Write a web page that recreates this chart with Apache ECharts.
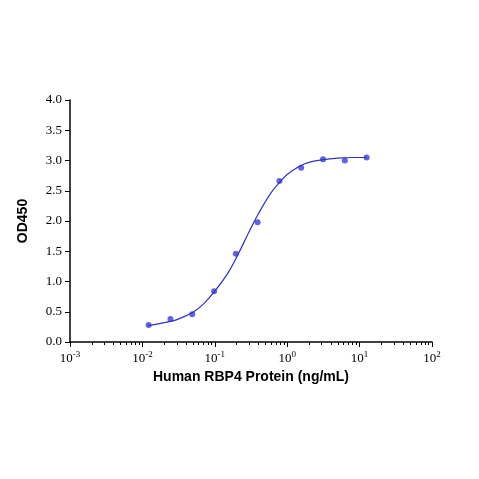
<!DOCTYPE html><html><head><meta charset="utf-8"><script src="https://cdn.jsdelivr.net/npm/echarts@6/dist/echarts.min.js"></script></head><body style="margin:0"><div id="c" style="width:479px;height:479px"></div><script>
var pointsX=[0.0122,0.0244,0.0488,0.0977,0.195,0.39,0.78,1.56,3.125,6.25,12.5];
var pointsY=[0.28,0.38,0.46,0.84,1.46,1.98,2.66,2.88,3.02,3.0,3.05];
var curveX=[0.012,0.02,0.03,0.05,0.07,0.1,0.15,0.2,0.3,0.4,0.6,0.8,1,1.5,2,3,5,8,12.5];
var curveY=[0.27,0.32,0.37,0.49,0.63,0.84,1.13,1.40,1.83,2.12,2.47,2.65,2.77,2.91,2.97,3.01,3.04,3.05,3.05];
var ch=echarts.init(document.getElementById('c'));
ch.setOption({animation:false,
grid:{left:70,right:47,top:100,bottom:137},
xAxis:{type:'log',min:0.001,max:100,logBase:10,
 name:'Human RBP4 Protein (ng/mL)',nameLocation:'middle',nameGap:28,
 nameTextStyle:{fontFamily:'Liberation Sans',fontWeight:'bold',fontSize:14,color:'#000'},
 axisLine:{lineStyle:{color:'#000',width:1.5}},axisTick:{length:5,lineStyle:{color:'#000'}},
 minorTick:{show:true,splitNumber:9,length:3,lineStyle:{color:'#000'}},
 splitLine:{show:false},
 axisLabel:{color:'#000',fontFamily:'Liberation Serif',fontSize:13,
  rich:{b:{fontFamily:'Liberation Serif',fontSize:13,color:'#000',verticalAlign:'bottom'},s:{fontFamily:'Liberation Serif',fontSize:9,color:'#000',verticalAlign:'top',padding:[0,0,6,0]}},
  formatter:function(v){var e=Math.round(Math.log10(v));return '{b|10}{s|'+e+'}';}}},
yAxis:{type:'value',min:0,max:4,interval:0.5,
 name:'OD450',nameLocation:'middle',nameGap:40,
 nameTextStyle:{fontFamily:'Liberation Sans',fontWeight:'bold',fontSize:14,color:'#000'},
 axisLine:{show:true,lineStyle:{color:'#000',width:1.5}},axisTick:{show:true,length:5,lineStyle:{color:'#000'}},
 splitLine:{show:false},
 axisLabel:{color:'#000',fontFamily:'Liberation Serif',fontSize:13,formatter:function(v){return v.toFixed(1);}}},
series:[
{type:'line',data:curveX.map(function(x,i){return [x,curveY[i]];}),smooth:0.4,showSymbol:false,lineStyle:{color:'#3030c8',width:1.2}},
{type:'scatter',data:pointsX.map(function(x,i){return [x,pointsY[i]];}),symbolSize:6,itemStyle:{color:'#3b3be0'}}
]});
</script></body></html>
